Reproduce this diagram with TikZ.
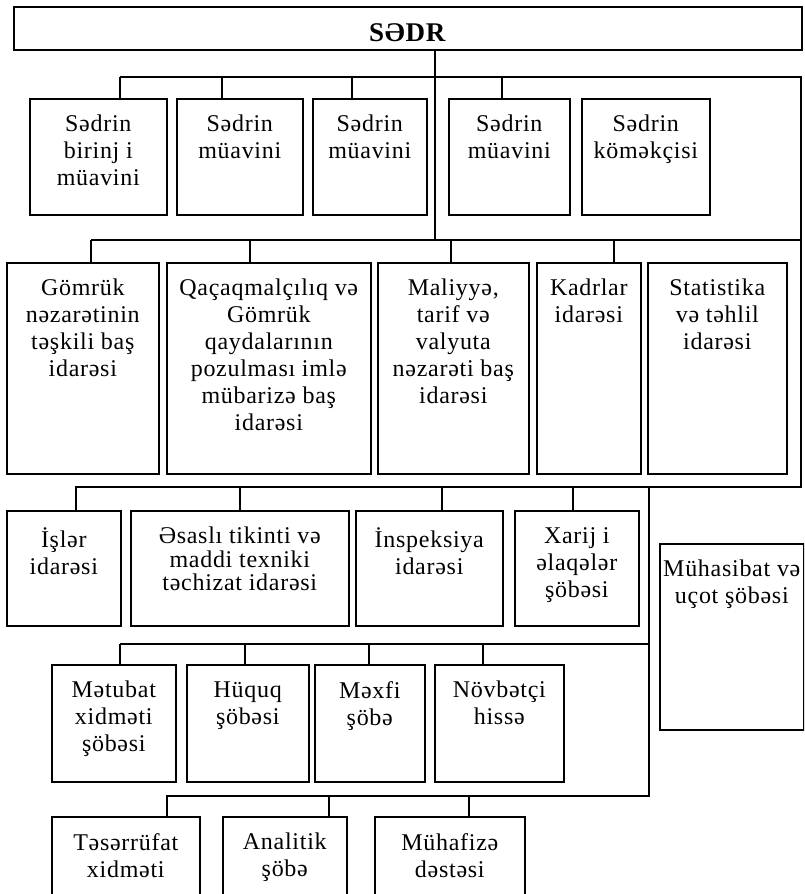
\documentclass[tikz,border=0pt]{standalone}
\usepackage{fontspec}
\setmainfont{Liberation Serif}[LetterSpace=3]
\tikzstyle{unitstyle}=[draw, line width=1.6pt, inner sep=0pt, anchor=north west, font=\fontsize{24}{27}\selectfont]
\tikzstyle{linkstyle}=[draw, line width=1.4pt]
\newcommand{\orgunit}[6]{\node [unitstyle] (#1) at (#2,#3) {\parbox[c][\dimexpr#5pt-#3pt\relax][t]{\dimexpr#4pt-#2pt\relax}{\vspace*{16.5pt}\centering #6\par}};}

\begin{document}
\begin{tikzpicture}[x=1pt, y=-1pt]
\useasboundingbox (0,0) rectangle (804,894);
\clip (0,0) rectangle (804,894);
% head
\orgunit{sedr}{13}{6}{801}{49}{\fontsize{27}{30}\selectfont\textbf{SƏDR}}
% deputies
\orgunit{r1a}{29}{98}{166}{214}{Sədrin\\birinj i\\müavini}
\orgunit{r1b}{176}{98}{302}{214}{Sədrin\\müavini}
\orgunit{r1c}{312}{98}{426}{214}{Sədrin\\müavini}
\orgunit{r1d}{448}{98}{569}{214}{Sədrin\\müavini}
\orgunit{r1e}{581}{98}{709}{214}{Sədrin\\köməkçisi}
% main departments
\orgunit{r2a}{6}{262}{158}{473}{Gömrük\\nəzarətinin\\təşkili baş\\idarəsi}
\orgunit{r2b}{166}{262}{370}{473}{Qaçaqmalçılıq və\\Gömrük\\qaydalarının\\pozulması imlə\\mübarizə baş\\idarəsi}
\orgunit{r2c}{377}{262}{528}{473}{Maliyyə,\\tarif və\\valyuta\\nəzarəti baş\\idarəsi}
\orgunit{r2d}{536}{262}{640}{473}{Kadrlar\\idarəsi}
\orgunit{r2e}{647}{262}{786}{473}{Statistika\\və təhlil\\idarəsi}
% departments
\orgunit{r3a}{6}{510}{120}{625}{İşlər\\idarəsi}
\orgunit{r3b}{130}{510}{348}{625}{\fontsize{24}{23.5}\selectfont Əsaslı tikinti və\\maddi texniki\\təchizat idarəsi}
\orgunit{r3c}{355}{510}{502}{625}{İnspeksiya\\idarəsi}
\orgunit{r3d}{514}{510}{638}{625}{Xarij i\\əlaqələr\\şöbəsi}
\orgunit{acc}{659}{543}{803}{729}{Mühasibat və\\uçot şöbəsi}
% sections
\orgunit{r4a}{51}{664}{175}{781}{Mətubat\\xidməti\\şöbəsi}
\orgunit{r4b}{186}{664}{308}{781}{Hüquq\\şöbəsi}
\orgunit{r4c}{314}{664}{424}{781}{Məxfi\\şöbə}
\orgunit{r4d}{434}{664}{563}{781}{Növbətçi\\hissə}
% services
\orgunit{r5a}{51}{816}{199}{910}{Təsərrüfat\\xidməti}
\orgunit{r5b}{222}{816}{346}{910}{Analitik\\şöbə}
\orgunit{r5c}{374}{816}{524}{910}{Mühafizə\\dəstəsi}
% bus lines
\coordinate (trunk) at (435,240);
\coordinate (bus1w) at (120,77);
\coordinate (bus1e) at (801,77);
\coordinate (bus2w) at (91,240);
\coordinate (bus2e) at (801,240);
\coordinate (bus3w) at (75,487);
\coordinate (bus3e) at (801,487);
\coordinate (rail) at (649,487);
\coordinate (bus4w) at (120,644);
\coordinate (bus4e) at (649,644);
\coordinate (bus5w) at (166,796);
\coordinate (bus5e) at (649,796);
\draw [linkstyle] (sedr.south -| trunk) -- (trunk);
\draw [linkstyle] (bus1w) -- (bus1e) -- (bus3e) -- (bus3w);
\draw [linkstyle] (bus2w) -- (bus2e);
\draw [linkstyle] (rail) -- (bus5e) -- (bus5w);
\draw [linkstyle] (bus4w) -- (bus4e);
% drops
\foreach \dx/\dy/\unit in {120/77/r1a, 222/77/r1b, 352/77/r1c, 502/77/r1d,
  91/240/r2a, 250/240/r2b, 451/240/r2c, 614/240/r2d,
  76/487/r3a, 240/487/r3b, 442/487/r3c, 573/487/r3d,
  120/644/r4a, 245/644/r4b, 369/644/r4c, 483/644/r4d,
  167/796/r5a, 329/796/r5b, 469/796/r5c} {
  \coordinate (drop) at (\dx,\dy);
  \draw [linkstyle] (drop) -- (drop |- \unit.north);
}
\end{tikzpicture}
\end{document}
